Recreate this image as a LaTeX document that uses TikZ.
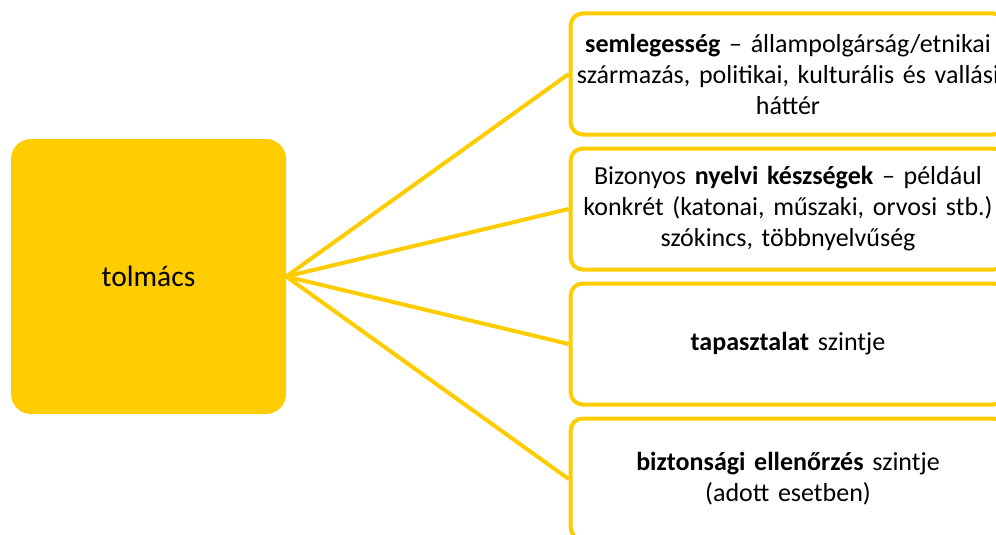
\documentclass[tikz,border=0pt]{standalone}
\usepackage{fontspec}
\setmainfont{Carlito}[WordSpace=0.85]
\usepackage{tikz}
\usetikzlibrary{positioning}
\definecolor{TolYellow}{HTML}{FFCC00}
\tikzset{
  % Centre box
  CB/.style={rectangle,rounded corners=20pt,fill=TolYellow,
             minimum width=275pt,minimum height=275pt,
             text centered,font=\fontsize{29.5}{36}\selectfont},
  % Side box
  SB/.style={rectangle,rounded corners=12pt,draw=TolYellow,line width=4pt,
             fill=white,minimum width=434pt,minimum height=121pt,
             text width=428pt,align=center,font=\fontsize{26}{31}\selectfont},
  % Connector
  ln/.style={draw=TolYellow,line width=4pt}
}
\begin{document}
\begin{tikzpicture}[x=1pt,y=-1pt]
  \useasboundingbox (0,0) rectangle (996,535);
  \clip (0,0) rectangle (996,535);
  \node[CB] (tolmacs) at (148.5,276.5) {tolmács};
  \node[SB] (semleges) at (788,74) {\textbf{semlegesség} – állampolgárság/etnikai\\ származás, politikai, kulturális és vallási\\ háttér};
  \node[SB,below=10pt of semleges] (nyelvi) {Bizonyos \textbf{nyelvi készségek} – például\\ konkrét (katonai, műszaki, orvosi stb.)\\ szókincs, többnyelvűség};
  \node[SB,below=10pt of nyelvi] (tapaszt) {\textbf{tapasztalat} szintje};
  \node[SB,below=10pt of tapaszt] (bizt) {\textbf{biztonsági ellenőrzés} szintje\\ (adott esetben)};

  \draw[ln](tolmacs.east)--(semleges.west);
  \draw[ln](tolmacs.east)--(nyelvi.west);
  \draw[ln](tolmacs.east)--(tapaszt.west);
  \draw[ln](tolmacs.east)--(bizt.west);
\end{tikzpicture}
\end{document}
